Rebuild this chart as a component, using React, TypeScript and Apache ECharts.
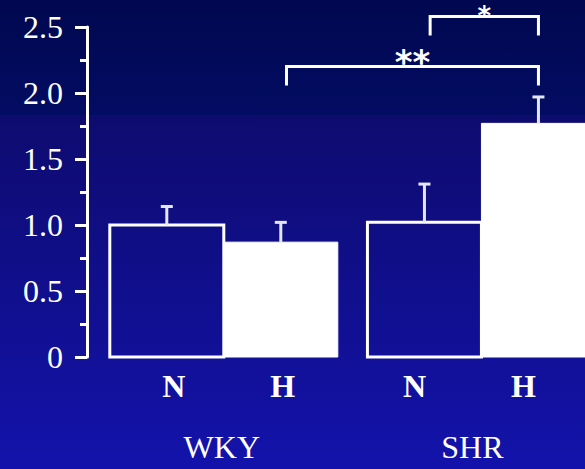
import React, { useEffect, useRef } from "react";
import * as echarts from "echarts";

const groups = ["WKY", "SHR"];
const conditions = ["N", "H"];
const means = [1.0, 0.87, 1.02, 1.77];
const sems = [0.14, 0.15, 0.29, 0.2];
const comparisons = [
  { from: 1, to: 3, y: 2.2, label: "**" },
  { from: 2, to: 3, y: 2.58, label: "*" },
];
const yTickLabels = ["0", "0.5", "1.0", "1.5", "2.0", "2.5"];

const SERIF = '"Liberation Serif", "Times New Roman", serif';
const LEFT_PAD = 0.2;
const GROUP_GAP = 0.26;
const barStart = (i: number) => LEFT_PAD + i + (i >= conditions.length ? GROUP_GAP : 0);
const barCenter = (i: number) => barStart(i) + 0.5;
// small pixel nudges of the category labels, as in the original slide
const CONDITION_LABEL_NUDGE = [7, 2, -10, -15];
const GROUP_LABEL_NUDGE = [-2, -9];
const STAR_FONT = [34, 26];

export default function App() {
  const ref = useRef<HTMLDivElement>(null);
  useEffect(() => {
    document.body.style.margin = "0";
    const chart = echarts.init(ref.current!, undefined, { renderer: "svg" });
    const barData = means.map((v, i) => [barStart(i), barStart(i) + 1, v, i]);
    const errData = means.map((v, i) => [barCenter(i), v, v + sems[i], i]);
    const labelData = means.map((v, i) => [barCenter(i), i]);
    const groupData = groups.map((g, gi) => [
      (barStart(gi * conditions.length) + barStart(gi * conditions.length + conditions.length - 1) + 1) / 2,
      gi,
    ]);
    chart.setOption({
      animation: false,
      graphic: [
        {
          type: "rect",
          z: -10,
          silent: true,
          shape: { x: 0, y: 0, width: 585, height: 115 },
          style: {
            fill: new echarts.graphic.LinearGradient(0, 0, 0, 1, [
              { offset: 0, color: "#010850" },
              { offset: 1, color: "#020c62" },
            ]),
          },
        },
        {
          type: "rect",
          z: -10,
          silent: true,
          shape: { x: 0, y: 115, width: 585, height: 354 },
          style: {
            fill: new echarts.graphic.LinearGradient(0, 0, 0, 1, [
              { offset: 0, color: "#0e0b6f" },
              { offset: 1, color: "#1313ab" },
            ]),
          },
        },
      ],
      grid: { left: 87, right: 0, top: 27, bottom: 112 },
      xAxis: { type: "value", min: 0, max: 498 / 114, show: false },
      yAxis: {
        type: "value",
        min: 0,
        max: 2.5,
        interval: 0.5,
        axisLine: { show: true, lineStyle: { color: "#ffffff", width: 3 } },
        axisTick: { show: true, length: 12, lineStyle: { color: "#ffffff", width: 3 } },
        minorTick: { show: true, splitNumber: 2, length: 7, lineStyle: { color: "#ffffff", width: 3 } },
        splitLine: { show: false },
        axisLabel: {
          color: "#ffffff",
          fontSize: 32,
          fontFamily: SERIF,
          margin: 24,
          formatter: (v: number) => yTickLabels[Math.round(v / 0.5)] ?? String(v),
        },
      },
      series: [
        {
          type: "custom",
          data: barData,
          renderItem: (params: any, api: any) => {
            const p0 = api.coord([api.value(0), 0]);
            const p1 = api.coord([api.value(1), api.value(2)]);
            const isH = api.value(3) % 2 === 1;
            return {
              type: "rect",
              shape: { x: p0[0], y: p1[1], width: p1[0] - p0[0], height: p0[1] - p1[1] },
              style: {
                fill: isH ? "#ffffff" : "rgba(0,0,0,0)",
                stroke: "#ffffff",
                lineWidth: isH ? 1 : 3,
              },
            };
          },
        },
        {
          type: "custom",
          data: errData,
          z: 3,
          renderItem: (params: any, api: any) => {
            const b = api.coord([api.value(0), api.value(1)]);
            const t = api.coord([api.value(0), api.value(2)]);
            const st = { stroke: "#e4e6f6", lineWidth: 3 };
            return {
              type: "group",
              children: [
                { type: "line", shape: { x1: b[0], y1: b[1], x2: t[0], y2: t[1] }, style: st },
                { type: "line", shape: { x1: t[0] - 6, y1: t[1], x2: t[0] + 6, y2: t[1] }, style: st },
              ],
            };
          },
        },
        {
          type: "custom",
          data: comparisons.map((c) => [barCenter(c.from) + 0.05, barCenter(c.to), c.y]),
          renderItem: (params: any, api: any) => {
            const l = api.coord([api.value(0), api.value(2)]);
            const r = api.coord([api.value(1), api.value(2)]);
            const c = comparisons[params.dataIndex];
            const fs = STAR_FONT[params.dataIndex];
            const st = { stroke: "#ffffff", lineWidth: 3, fill: "none" };
            return {
              type: "group",
              children: [
                {
                  type: "polyline",
                  shape: { points: [[l[0], l[1] + 19], [l[0], l[1]], [r[0], r[1]], [r[0], r[1] + 19]] },
                  style: st,
                },
                {
                  type: "text",
                  x: (l[0] + r[0]) / 2,
                  y: Math.max(l[1] - 5, fs * 0.6),
                  style: {
                    text: c.label,
                    fill: "#ffffff",
                    fontSize: fs,
                    fontWeight: "bold",
                    fontFamily: '"DejaVu Sans", sans-serif',
                    align: "center",
                    verticalAlign: "middle",
                  },
                },
              ],
            };
          },
        },
        {
          type: "custom",
          data: labelData,
          renderItem: (params: any, api: any) => {
            const p = api.coord([api.value(0), 0]);
            const i = api.value(1);
            return {
              type: "text",
              x: p[0] + CONDITION_LABEL_NUDGE[i],
              y: p[1] + 29,
              style: {
                text: conditions[i % conditions.length],
                fill: "#ffffff",
                fontSize: 32,
                fontWeight: "bold",
                fontFamily: SERIF,
                align: "center",
                verticalAlign: "middle",
              },
            };
          },
        },
        {
          type: "custom",
          data: groupData,
          renderItem: (params: any, api: any) => {
            const p = api.coord([api.value(0), 0]);
            const gi = api.value(1);
            return {
              type: "text",
              x: p[0] + GROUP_LABEL_NUDGE[gi],
              y: p[1] + 90,
              style: {
                text: groups[gi],
                fill: "#ffffff",
                fontSize: 32,
                fontFamily: SERIF,
                align: "center",
                verticalAlign: "middle",
              },
            };
          },
        },
      ],
    });
    return () => chart.dispose();
  }, []);
  return <div ref={ref} style={{ width: 585, height: 469 }} />;
}
